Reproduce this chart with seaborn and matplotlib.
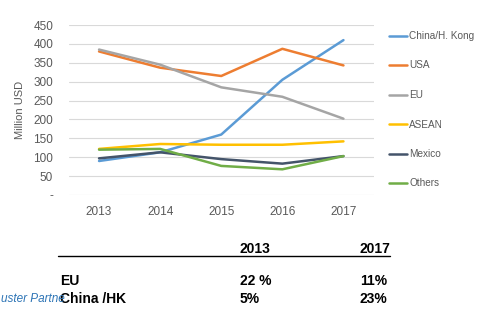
import matplotlib
matplotlib.use("Agg")
import matplotlib.pyplot as plt
import seaborn as sns
import pandas as pd

years = [2013, 2014, 2015, 2016, 2017]
series_names = ["China/H. Kong", "USA", "EU", "ASEAN", "Mexico", "Others"]
china_hk = [90, 113, 160, 305, 410]
usa = [380, 337, 315, 387, 343]
eu = [385, 345, 285, 260, 202]
asean = [122, 135, 133, 133, 142]
mexico = [97, 113, 95, 83, 103]
others = [120, 122, 77, 68, 103]
colors = ["#5B9BD5", "#ED7D31", "#A5A5A5", "#FFC000", "#44546A", "#70AD47"]
yticks = [0, 50, 100, 150, 200, 250, 300, 350, 400, 450]
ytick_labels = ["-", "50", "100", "150", "200", "250", "300", "350", "400", "450"]

table_header = ["2013", "2017"]
table_rows = [("EU", "22 %", "11%"), ("China /HK", "5%", "23%")]

values = [china_hk, usa, eu, asean, mexico, others]
rows = []
for name, vals in zip(series_names, values):
    for y, v in zip(years, vals):
        rows.append({"Year": y, "Value": v, "Series": name})
df = pd.DataFrame(rows)

sns.set_theme(style="white")
plt.rcParams["font.family"] = ["Liberation Sans", "DejaVu Sans"]

fig = plt.figure(figsize=(4.92, 3.32), dpi=100)
W, H = 492, 332
ax = fig.add_axes([68.5 / W, 1 - 195 / H, (374 - 68.5) / W, 170 / H])

sns.lineplot(data=df, x="Year", y="Value", hue="Series", hue_order=series_names,
             palette=colors, linewidth=1.8, ax=ax, legend=True)

ax.set_xlim(2012.5, 2017.5)
ax.set_ylim(0, 450)
ax.set_yticks(yticks)
ax.set_yticklabels(ytick_labels)
ax.set_xticks(years)
ax.set_xticklabels([str(y) for y in years])
ax.grid(axis="y", color="#D9D9D9", linewidth=0.8)
ax.set_axisbelow(True)
for s in ax.spines.values():
    s.set_visible(False)
ax.tick_params(axis="both", length=0, labelsize=8.5, colors="#595959")
ax.tick_params(axis="x", pad=8)
ax.tick_params(axis="y", pad=11)
ax.set_xlabel("")
ax.set_ylabel("Million USD", fontsize=8, color="#595959", labelpad=6)

handles, labels = ax.get_legend_handles_labels()
ax.legend(handles, labels, loc="upper left", bbox_to_anchor=(385 / W, 1 - 27 / H),
          bbox_transform=fig.transFigure, frameon=False, fontsize=7.2,
          labelcolor="#595959", handlelength=1.75, handletextpad=0.25,
          labelspacing=1.95, borderaxespad=0)

# table below the chart
bold = dict(fontsize=10, fontweight="bold", color="black", va="baseline")
fig.text(240 / W, 1 - 253 / H, table_header[0], **bold)
fig.text(360 / W, 1 - 253 / H, table_header[1], **bold)
fig.add_artist(plt.Line2D([58 / W, 390 / W], [1 - 255.5 / H, 1 - 255.5 / H],
                          color="black", linewidth=1.0, transform=fig.transFigure))
row_y = [285, 303]
for (label, a, b), yy in zip(table_rows, row_y):
    fig.text(60 / W, 1 - yy / H, label, **bold)
    fig.text(240 / W, 1 - yy / H, a, **bold)
    fig.text(360 / W, 1 - yy / H, b, **bold)

fig.text(1 / W, 1 - 302 / H, "uster Partne", fontsize=8.5, style="italic",
         color="#2E75B6", va="baseline")

fig.savefig("out.png", dpi=100)
